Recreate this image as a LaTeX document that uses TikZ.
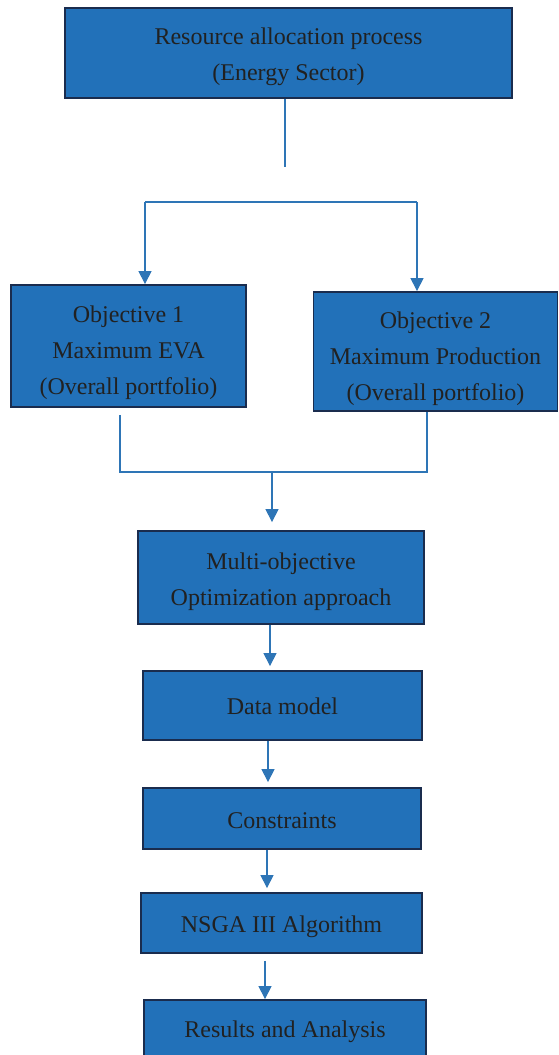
\documentclass[tikz,border=0pt]{standalone}
\usepackage{fontspec}
\setmainfont{Liberation Serif}
\usetikzlibrary{arrows.meta}
\definecolor{boxblue}{RGB}{34,113,185}
\definecolor{boxedge}{RGB}{26,44,78}
\definecolor{lineblue}{RGB}{46,117,182}
\definecolor{txtgray}{RGB}{33,33,33}

\newcommand{\lift}[1]{\rule{0pt}{#1}}

\tikzset{
  stage/.style={draw=boxedge,line width=1.8pt,fill=boxblue,text=txtgray,
    align=center,inner sep=0pt,font=\fontsize{24}{36}\selectfont},
  link/.style={draw=lineblue,line width=1.1pt},
}

\begin{document}
\begin{tikzpicture}[x=1pt,y=-1pt,>={Triangle[length=13pt,width=13pt]}]
  \useasboundingbox (0,0) rectangle (558,1055);
  % boxes
  \node[stage,minimum width=447pt,minimum height=90pt] (top) at (288.5,53) {\lift{25pt}Resource allocation process\\(Energy Sector)};
  \node[stage,minimum width=235pt,minimum height=122pt] (obj1) at (128.5,346) {\lift{31pt}Objective 1\\Maximum EVA\\(Overall portfolio)};
  \node[stage,minimum width=244pt,minimum height=119pt] (obj2) at (435.5,351.5) {\lift{31pt}Objective 2\\Maximum Production\\(Overall portfolio)};
  \node[stage,minimum width=286pt,minimum height=93pt] (moo) at (281,577.5) {\lift{25pt}Multi-objective\\Optimization approach};
  \node[stage,minimum width=279pt,minimum height=69pt] (data) at (282.5,705.5) {\lift{19pt}Data model};
  \node[stage,minimum width=278pt,minimum height=61pt] (cons) at (282,818.5) {\lift{21pt}Constraints};
  \node[stage,minimum width=281pt,minimum height=60pt] (nsga) at (281.5,923) {\lift{25pt}NSGA III Algorithm};
  \node[stage,minimum width=282pt,minimum height=62pt] (res) at (285,1031) {\lift{19pt}Results and Analysis};

  % split
  \coordinate (s1) at (285,167);
  \coordinate (bl) at (145,202);
  \coordinate (br) at (417,202);
  \path[link] (s1 |- top.south) -- (s1);
  \path[link] (bl) -- (br);
  \path[link,->] (bl) -- (bl |- obj1.north);
  \path[link,->] (br) -- (br |- obj2.north);

  % merge
  \coordinate (ml) at (120,472);
  \coordinate (mr) at (427,472);
  \coordinate (mid) at (272,472);
  \path[link,shorten <=7pt] (ml |- obj1.south) -- (ml) -- (mr) -- (mr |- obj2.south);
  \path[link,->,shorten >=8pt] (mid) -- (mid |- moo.north);

  % chain
  \coordinate (c1) at (270,0);
  \coordinate (c2) at (268,0);
  \coordinate (c3) at (267,0);
  \coordinate (c4) at (265,0);
  \path[link,->,shorten >=4pt] (moo.south -| c1) -- (data.north -| c1);
  \path[link,->,shorten >=5pt] (data.south -| c2) -- (cons.north -| c2);
  \path[link,->,shorten >=4pt] (cons.south -| c3) -- (nsga.north -| c3);
  \path[link,->,shorten <=7pt] (nsga.south -| c4) -- (res.north -| c4);
\end{tikzpicture}
\end{document}
